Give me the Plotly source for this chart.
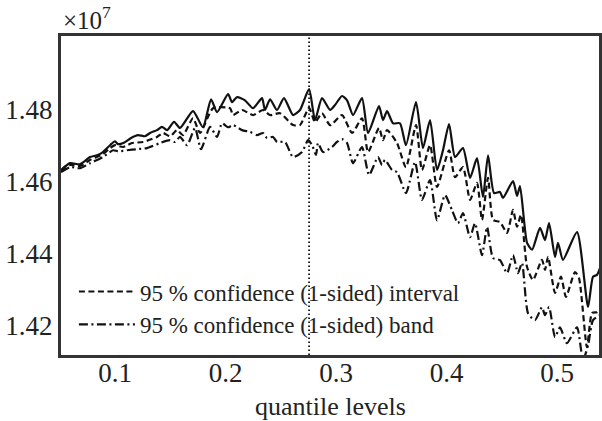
import plotly.graph_objects as go

# y values are in units of 1e7
solid_x = [0.0511,0.0593,0.0683,0.0774,0.0837,0.0891,0.0955,0.1000,0.1027,0.1081,0.1145,0.1208,0.1271,0.1317,0.1380,0.1425,0.1471,0.1534,0.1588,0.1706,0.1796,0.1869,0.1923,0.2023,0.2059,0.2104,0.2176,0.2249,0.2330,0.2357,0.2403,0.2466,0.2529,0.2611,0.2674,0.2756,0.2810,0.2873,0.2946,0.2991,0.3054,0.3100,0.3154,0.3235,0.3290,0.3389,0.3425,0.3462,0.3516,0.3579,0.3633,0.3724,0.3787,0.3851,0.3914,0.3968,0.4023,0.4077,0.4149,0.4213,0.4276,0.4330,0.4376,0.4430,0.4484,0.4511,0.4602,0.4638,0.4665,0.4729,0.4774,0.4846,0.4891,0.4928,0.4982,0.5009,0.5054,0.5181,0.5281,0.5326,0.5362,0.5389]
solid_y = [1.4632,1.4651,1.4648,1.4668,1.4673,1.4682,1.4701,1.4712,1.4704,1.4708,1.4721,1.4729,1.4726,1.4735,1.4743,1.4752,1.4743,1.4766,1.4749,1.4796,1.4751,1.4829,1.4793,1.4843,1.4821,1.4835,1.4826,1.4804,1.4832,1.4799,1.4829,1.4799,1.4832,1.4785,1.4799,1.4857,1.4771,1.4832,1.4799,1.4813,1.4838,1.4826,1.4785,1.4832,1.4735,1.4810,1.4771,1.4796,1.4762,1.4762,1.4701,1.4821,1.4693,1.4771,1.4632,1.4687,1.4760,1.4668,1.4693,1.4610,1.4665,1.4557,1.4673,1.4568,1.4571,1.4554,1.4601,1.4560,1.4587,1.4429,1.4410,1.4471,1.4437,1.4484,1.4390,1.4429,1.4382,1.4459,1.4251,1.4335,1.4340,1.4359]

interval_x = [0.0511,0.0593,0.0683,0.0774,0.0891,0.0955,0.1000,0.1072,0.1154,0.1253,0.1380,0.1434,0.1498,0.1561,0.1615,0.1706,0.1769,0.1887,0.2041,0.2068,0.2149,0.2249,0.2339,0.2403,0.2493,0.2611,0.2674,0.2756,0.2810,0.2873,0.2946,0.3054,0.3145,0.3235,0.3290,0.3389,0.3425,0.3462,0.3552,0.3633,0.3724,0.3778,0.3851,0.3914,0.4023,0.4077,0.4149,0.4213,0.4276,0.4321,0.4376,0.4421,0.4484,0.4548,0.4602,0.4638,0.4674,0.4729,0.4783,0.4864,0.4891,0.4919,0.4982,0.5036,0.5081,0.5163,0.5199,0.5271,0.5317,0.5362,0.5389]
interval_y = [1.4629,1.4646,1.4643,1.4660,1.4676,1.4693,1.4701,1.4696,1.4707,1.4710,1.4724,1.4735,1.4726,1.4743,1.4729,1.4776,1.4735,1.4804,1.4804,1.4785,1.4799,1.4785,1.4799,1.4785,1.4790,1.4757,1.4757,1.4805,1.4765,1.4790,1.4757,1.4785,1.4735,1.4776,1.4682,1.4749,1.4715,1.4743,1.4707,1.4640,1.4757,1.4632,1.4701,1.4585,1.4687,1.4612,1.4640,1.4549,1.4596,1.4493,1.4610,1.4493,1.4487,1.4457,1.4521,1.4474,1.4507,1.4362,1.4326,1.4382,1.4354,1.4390,1.4290,1.4335,1.4279,1.4348,1.4331,1.4139,1.4234,1.4236,1.4242]

band_x = [0.0511,0.0593,0.0683,0.0774,0.0891,0.0982,0.1027,0.1109,0.1199,0.1290,0.1407,0.1498,0.1543,0.1588,0.1652,0.1724,0.1778,0.1860,0.1923,0.1968,0.2023,0.2068,0.2149,0.2222,0.2285,0.2339,0.2376,0.2430,0.2466,0.2538,0.2611,0.2692,0.2747,0.2783,0.2819,0.2837,0.2882,0.2964,0.3009,0.3054,0.3100,0.3154,0.3235,0.3299,0.3380,0.3416,0.3443,0.3507,0.3552,0.3633,0.3715,0.3778,0.3851,0.3914,0.3986,0.4050,0.4104,0.4149,0.4213,0.4258,0.4321,0.4367,0.4421,0.4484,0.4548,0.4602,0.4647,0.4683,0.4738,0.4801,0.4864,0.4891,0.4928,0.4982,0.5027,0.5090,0.5181,0.5235,0.5281,0.5326,0.5389]
band_y = [1.4626,1.4640,1.4637,1.4651,1.4668,1.4687,1.4684,1.4687,1.4690,1.4693,1.4707,1.4715,1.4710,1.4724,1.4701,1.4749,1.4690,1.4752,1.4724,1.4762,1.4751,1.4757,1.4743,1.4738,1.4729,1.4735,1.4721,1.4724,1.4710,1.4710,1.4668,1.4682,1.4715,1.4701,1.4674,1.4707,1.4682,1.4696,1.4710,1.4718,1.4707,1.4651,1.4696,1.4618,1.4668,1.4646,1.4660,1.4632,1.4626,1.4568,1.4654,1.4549,1.4604,1.4492,1.4562,1.4520,1.4484,1.4512,1.4445,1.4484,1.4395,1.4473,1.4387,1.4381,1.4345,1.4395,1.4345,1.4373,1.4233,1.4214,1.4250,1.4228,1.4250,1.4167,1.4194,1.4150,1.4194,1.4103,1.4144,1.4214,1.4228]

vline_x = 0.2756
x_ticks = [0.1, 0.2, 0.3, 0.4, 0.5]
x_tick_labels = ["0.1", "0.2", "0.3", "0.4", "0.5"]
y_ticks = [1.42, 1.44, 1.46, 1.48]
y_tick_labels = ["1.42", "1.44", "1.46", "1.48"]
legend_labels = ["95 % confidence (1-sided) interval", "95 % confidence (1-sided) band"]
x_title = "quantile levels"
scale_label = "×10<sup>7</sup>"

FONT = "Liberation Serif"
INK = "#111111"
TXT = "#222222"

fig = go.Figure()
fig.add_trace(go.Scatter(x=solid_x, y=solid_y, mode="lines", showlegend=False,
                         line=dict(color=INK, width=2.2, shape="spline", smoothing=0.6)))
fig.add_trace(go.Scatter(x=interval_x, y=interval_y, mode="lines", name=legend_labels[0],
                         line=dict(color=INK, width=2.2, dash="6px,3.5px", shape="spline", smoothing=0.6)))
fig.add_trace(go.Scatter(x=band_x, y=band_y, mode="lines", name=legend_labels[1],
                         line=dict(color=INK, width=2.2, dash="9px,3.5px,2px,3.5px", shape="spline", smoothing=0.6)))

fig.add_shape(type="line", xref="x", yref="paper", x0=vline_x, x1=vline_x, y0=0, y1=1,
              line=dict(color=INK, width=1.8, dash="1.6px,2.4px"))

axis_common = dict(showline=True, mirror=True, linewidth=3, linecolor="#333333",
                   showgrid=False, zeroline=False, ticks="", automargin=False,
                   tickfont=dict(family=FONT, size=27, color=TXT))

fig.update_xaxes(range=[0.0511, 0.5380], tickvals=x_ticks, ticktext=x_tick_labels,
                 ticklabelstandoff=-8, **axis_common)
fig.update_yaxes(range=[1.4117, 1.5005], tickvals=y_ticks, ticktext=y_tick_labels, **axis_common)

fig.add_annotation(xref="paper", yref="paper", x=0.5, y=-0.16, xanchor="center", yanchor="middle",
                   text=x_title, showarrow=False, font=dict(family=FONT, size=26, color=TXT))
fig.add_annotation(xref="paper", yref="paper", x=0, y=1, xanchor="left", yanchor="bottom",
                   yshift=0, text=scale_label, showarrow=False,
                   font=dict(family=FONT, size=25, color=TXT))

fig.update_layout(
    width=602, height=421,
    margin=dict(l=61, r=3, t=36, b=66),
    plot_bgcolor="white", paper_bgcolor="white",
    font=dict(family=FONT, color=TXT),
    legend=dict(x=0.024, y=0.028, xanchor="left", yanchor="bottom",
                bgcolor="rgba(0,0,0,0)", font=dict(family=FONT, size=23, color=TXT),
                itemwidth=56),
)

fig.write_html("out.html", config={"displayModeBar": False},
               post_script="document.body.style.margin='0';document.body.style.overflow='hidden';")
